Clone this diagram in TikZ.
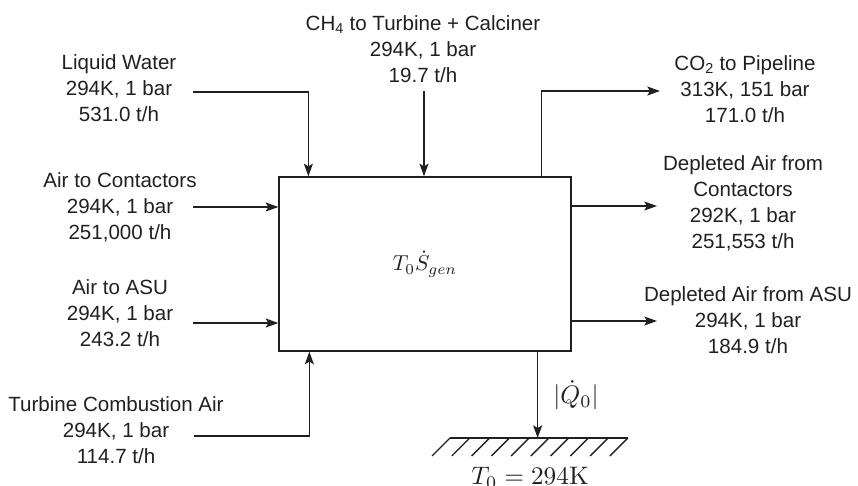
\documentclass[tikz,border=0pt]{standalone}
\usepackage{fontspec}
\setsansfont{Liberation Sans}
\usepackage{amsmath}
\usetikzlibrary{arrows.meta, positioning, calc}
\definecolor{ink}{HTML}{231F20}
\tikzset{
  >={Stealth[length=12pt, width=8.5pt, inset=2.5pt]},
  %
  stream/.style={font=\sffamily\fontsize{19.5}{24.7}\selectfont, text=ink,
                 align=center, inner sep=0pt},
  mathlbl/.style={font=\fontsize{10}{12}\selectfont, text=ink, inner sep=0pt},
  heatlbl/.style={mathlbl, scale=2.4},
  %
  sysbox/.style={draw=ink, line width=1.2pt, fill=white,
                 minimum width=9.733cm, minimum height=5.8cm, inner sep=0pt},
  %
  flow/.style={draw=ink, line width=1.5pt, ->},
  ground/.style={draw=ink, line width=2.4pt},
  hatch/.style={draw=ink, line width=1.3pt},
}
\begin{document}
\begin{tikzpicture}[x=1cm, y=1cm]
  \useasboundingbox (0,0) rectangle (28.6,16.167);

  % control volume
  \node[sysbox] (sys) at (14.167,7.367) {};
  \node[mathlbl, scale=2.05] (sgen) at (sys.center) {$T_0\dot{S}_{gen}$};

  % inlets
  \node[stream] (water) at (3.967,13.233) {Liquid Water\\294K, 1 bar\\531.0 t/h};
  \node[stream] (ch4) at (14.1,14.533) {CH\textsubscript{4} to Turbine + Calciner\\294K, 1 bar\\19.7 t/h};
  \node[stream] (aircont) at (4.0,9.267) {Air to Contactors\\294K, 1 bar\\251,000 t/h};
  \node[stream] (airasu) at (4.0,5.733) {Air to ASU\\294K, 1 bar\\243.2 t/h};
  \node[stream] (turb) at (3.867,1.833) {Turbine Combustion Air\\294K, 1 bar\\114.7 t/h};

  \coordinate (water-src)   at (6.433,13.1);
  \coordinate (ch4-src)     at (14.133,13.133);
  \coordinate (aircont-src) at (6.433,9.267);
  \coordinate (airasu-src)  at (6.433,5.4);
  \coordinate (turb-src)    at (6.467,1.633);

  \draw[flow] (water-src) -| ([xshift=1cm]sys.north west);
  \draw[flow] (ch4-src) -- (ch4-src |- sys.north);
  \draw[flow] (aircont-src) -- (aircont-src -| sys.west);
  \draw[flow] (airasu-src) -- (airasu-src -| sys.west);
  \draw[flow] (turb-src) -| ([xshift=1.033cm]sys.south west);

  % outlets
  \node[stream] (co2) at (24.833,13.2) {CO\textsubscript{2} to Pipeline\\313K, 151 bar\\171.0 t/h};
  \node[stream] (depcont) at (24.767,9.383) {Depleted Air from\\Contactors\\292K, 1 bar\\251,553 t/h};
  \node[stream] (depasu) at (24.933,5.5) {Depleted Air from ASU\\294K, 1 bar\\184.9 t/h};

  \coordinate (co2-dst)     at (22.0,13.133);
  \coordinate (depcont-dst) at (21.9,9.3);
  \coordinate (depasu-dst)  at (21.9,5.467);

  \draw[flow] ([xshift=-1cm]sys.north east) |- (co2-dst);
  \draw[flow] (sys.east |- depcont-dst) -- (depcont-dst);
  \draw[flow] (sys.east |- depasu-dst) -- (depasu-dst);

  % heat rejected to the surroundings
  \coordinate (gnd-l) at (15.0,1.567);
  \coordinate (gnd-r) at (20.93,1.567);
  \draw[ground] (gnd-l) -- (gnd-r);
  \foreach \i in {0,...,9}
    \draw[hatch] ($(gnd-l)+(\i*0.659,0)$) -- ++(-0.6,-0.6);
  \draw[flow] ([xshift=-1.133cm]sys.south east) coordinate (heat) -- (heat |- gnd-l);
  \node[heatlbl] (qdot) at (19.2,3.0) {$|\dot{Q}_0|$};
  \node[heatlbl] (tzero) at (17.667,0.25) {$T_0 = 294\mathrm{K}$};

\end{tikzpicture}
\end{document}
